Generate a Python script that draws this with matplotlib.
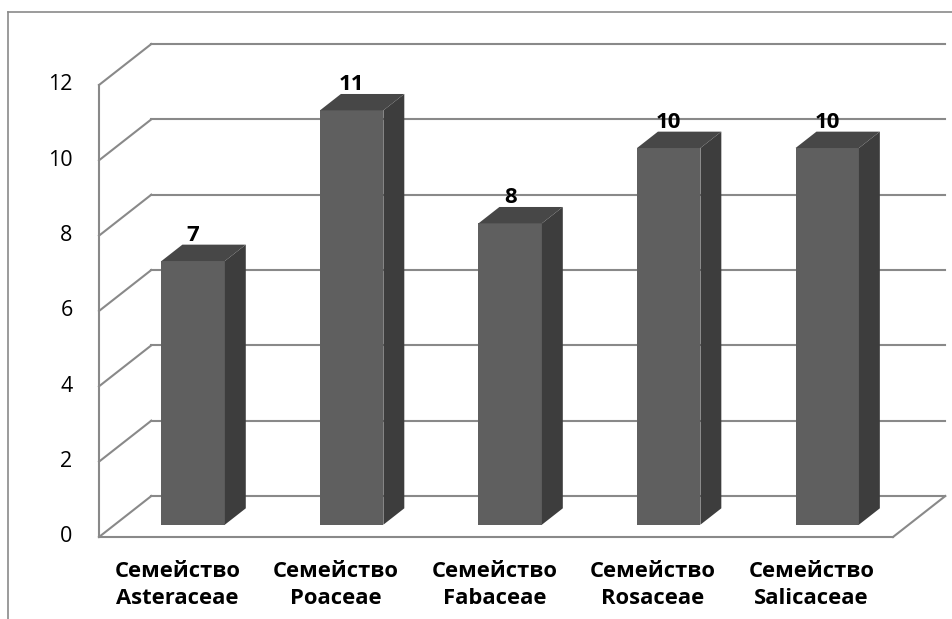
import matplotlib
matplotlib.use("Agg")
import matplotlib.pyplot as plt
from matplotlib.patches import Polygon
from matplotlib.lines import Line2D

plt.rcParams['font.family'] = ['Open Sans', 'DejaVu Sans']

categories = ["Семейство\nAsteraceae", "Семейство\nPoaceae", "Семейство\nFabaceae",
              "Семейство\nRosaceae", "Семейство\nSalicaceae"]
values = [7, 11, 8, 10, 10]
yticks = [0, 2, 4, 6, 8, 10, 12]

W, H = 952, 619
fig = plt.figure(figsize=(W / 100, H / 100), dpi=100)
fig.patch.set_facecolor('white')

# front plane of the 3D box
ax = fig.add_axes([99 / W, (H - 537) / H, (893 - 99) / W, (537 - 85) / H])
ax.set_xlim(-0.495, 4.514)
ax.set_ylim(0, 12)
ax.axis('off')

DX = 0.33    # depth offset in category units
DY = 1.088   # depth offset in value units
grid_c = '#898989'
lw = 1.5
x0, x1 = -0.495, 4.514

# back wall horizontal gridlines and left wall diagonals
for v in yticks:
    ax.add_line(Line2D([x0 + DX, x1 + DX], [v + DY, v + DY], color=grid_c, lw=lw,
                       clip_on=False, zorder=1))
    ax.add_line(Line2D([x0, x0 + DX], [v, v + DY], color=grid_c, lw=lw,
                       clip_on=False, zorder=1))
# left wall front vertical
ax.add_line(Line2D([x0, x0], [0, yticks[-1]], color=grid_c, lw=lw, clip_on=False, zorder=1))
# floor front edge and right edge
ax.add_line(Line2D([x0, x1], [0, 0], color=grid_c, lw=lw, clip_on=False, zorder=1))
ax.add_line(Line2D([x1, x1 + DX], [0, DY], color=grid_c, lw=lw, clip_on=False, zorder=1))

# y tick labels
for v in yticks:
    ax.annotate(str(v), xy=(x0, v), xytext=(-19, 0), textcoords='offset points',
                ha='right', va='center', fontsize=15.5, color='black')

# bars
bw = 0.4
f0, f1 = 0.3, 0.7
front_c, top_c, side_c = '#5f5f5f', '#474747', '#3d3d3d'
for i, v in enumerate(values):
    xl = i - bw / 2 + f0 * DX
    xr = i + bw / 2 + f0 * DX
    yb = f0 * DY
    yt = v + f0 * DY
    ddx = (f1 - f0) * DX
    ddy = (f1 - f0) * DY
    ax.add_patch(Polygon([(xl, yb), (xr, yb), (xr, yt), (xl, yt)], closed=True,
                         facecolor=front_c, edgecolor='none', clip_on=False, zorder=3))
    ax.add_patch(Polygon([(xr, yb), (xr + ddx, yb + ddy), (xr + ddx, yt + ddy), (xr, yt)],
                         closed=True, facecolor=side_c, edgecolor='none', clip_on=False, zorder=3))
    ax.add_patch(Polygon([(xl, yt), (xr, yt), (xr + ddx, yt + ddy), (xl + ddx, yt + ddy)],
                         closed=True, facecolor=top_c, edgecolor='none', clip_on=False, zorder=3))
    ax.annotate(str(v), xy=(i + f0 * DX, v + f1 * DY), xytext=(0, -1), textcoords='offset points',
                ha='center', va='bottom', fontsize=16, fontweight='bold', color='black', zorder=4)

# category labels
for i, c in enumerate(categories):
    ax.annotate(c, xy=(i, 0), xytext=(0, -17), textcoords='offset points',
                ha='center', va='top', fontsize=15.8, fontweight='bold', color='black',
                linespacing=1.42)

# outer chart border (left and top edges)
fig.add_artist(Line2D([8 / W, 8 / W], [0, (H - 12) / H], color='#8a8a8a', lw=1.2,
                      transform=fig.transFigure))
fig.add_artist(Line2D([8 / W, 1], [(H - 12) / H, (H - 12) / H], color='#8a8a8a', lw=1.2,
                      transform=fig.transFigure))

fig.savefig('out.png', dpi=100)
